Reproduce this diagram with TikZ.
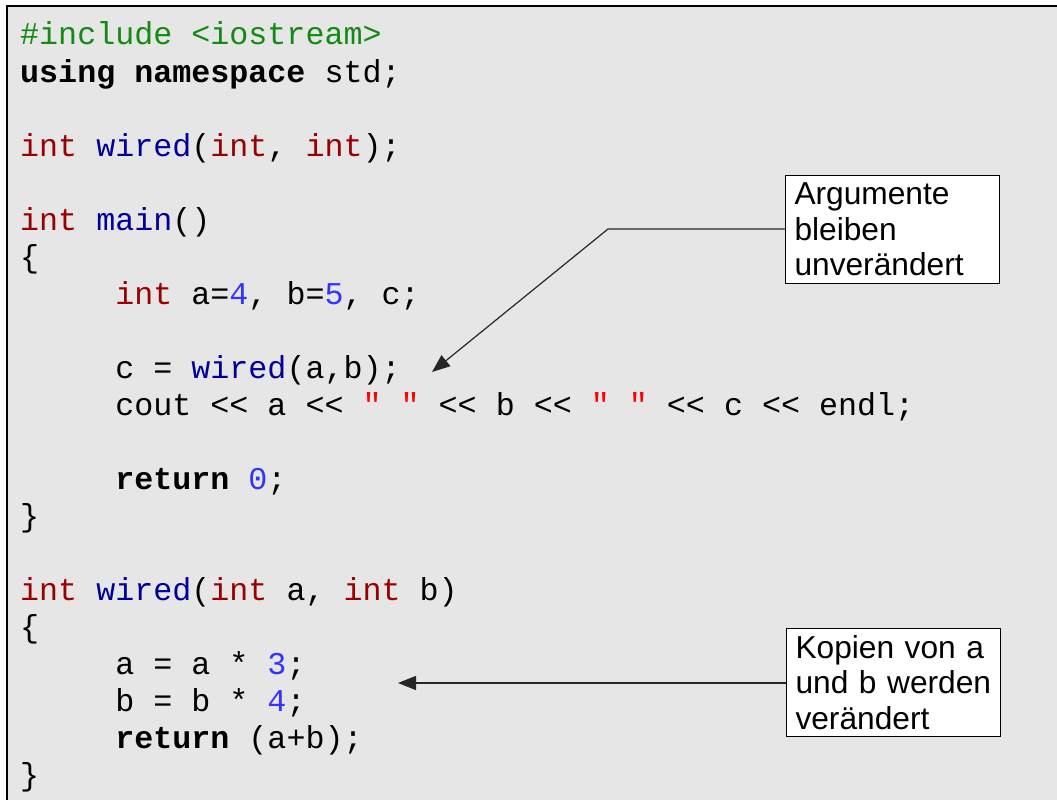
\documentclass[tikz,border=0pt]{standalone}
\usepackage{fontspec}
\setmainfont{Liberation Sans}
\newfontfamily\codefont{Liberation Mono}
\usetikzlibrary{arrows.meta}
\definecolor{bggray}{HTML}{E6E6E6}
\definecolor{kwred}{HTML}{990000}
\definecolor{fnblue}{HTML}{000099}
\definecolor{numblue}{HTML}{3333FF}
\definecolor{strred}{HTML}{FF0000}
\definecolor{ppgreen}{HTML}{138A13}
\newcommand{\kw}[1]{{\color{kwred}#1}}
\newcommand{\fn}[1]{{\color{fnblue}#1}}
\newcommand{\num}[1]{{\color{numblue}#1}}
\newcommand{\str}[1]{{\color{strred}#1}}
\begin{document}
\frenchspacing
\hyphenpenalty=10000
\exhyphenpenalty=10000
\begin{tikzpicture}[x=1pt,y=-1pt,
  code/.style={anchor=base west, inner sep=0pt, font=\codefont\fontsize{31.7}{37}\selectfont},
  note/.style={draw=black, line width=1pt, fill=white, anchor=north west, align=left,
    text width=196pt, inner xsep=9pt, inner ysep=0pt, minimum height=108pt,
    font=\fontsize{31.7}{35.5}\selectfont},
  callout/.style={line width=1.2pt, draw=black!85, -{Triangle[length=18pt,width=14pt]}}]
\useasboundingbox (0,0) rectangle (1057,800);
\fill[bggray] (7,6) rectangle (1057,800);
\draw[line width=2pt] (7,800) -- (7,6) -- (1057,6);

\node[code] (l1)  at (20,45)  {\color{ppgreen}\#include <iostream>};
\node[code] (l2)  at (20,82)  {\textbf{using namespace} std;};
\node[code] (l4)  at (20,156) {\kw{int} \fn{wired}(\kw{int}, \kw{int});};
\node[code] (l6)  at (20,230) {\kw{int} \fn{main}()};
\node[code] (l7)  at (20,267) {\{};
\node[code] (l8)  at (115.1,304) {\kw{int} a=\num{4}, b=\num{5}, c;};
\node[code] (l10) at (115.1,378) {c = \fn{wired}(a,b);};
\node[code] (l11) at (115.1,415) {cout << a << \str{" "} << b << \str{" "} << c << endl;};
\node[code] (l13) at (115.1,489) {\textbf{return} \num{0};};
\node[code] (l14) at (20,526) {\}};
\node[code] (l16) at (20,600) {\kw{int} \fn{wired}(\kw{int} a, \kw{int} b)};
\node[code] (l17) at (20,637) {\{};
\node[code] (l18) at (115.1,674) {a = a * \num{3};};
\node[code] (l19) at (115.1,711) {b = b * \num{4};};
\node[code] (l20) at (115.1,748) {\textbf{return} (a+b);};
\node[code] (l21) at (20,785) {\}};

\node[note] (n1) at (785,175) {Argumente\\bleiben\\unverändert};
\node[note] (n2) at (786,628) {Kopien von a\\und b werden\\verändert};

\coordinate (k1) at (608,229);
\coordinate (t1) at (432,372);
\coordinate (t2) at (398,683);
\draw[callout] (n1.west |- k1) -- (k1) -- (t1);
\draw[callout] (n2.west |- t2) -- (t2);
\end{tikzpicture}
\end{document}
